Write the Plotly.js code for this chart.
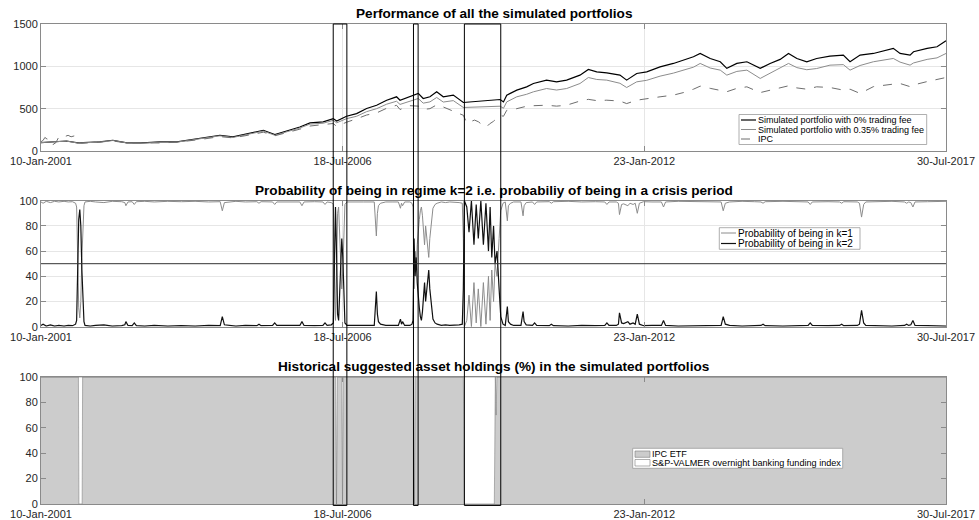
<!DOCTYPE html>
<html><head><meta charset="utf-8">
<script src="https://cdn.plot.ly/plotly-3.0.1.min.js"></script>
<style>html,body{margin:0;padding:0;background:#fff}#chart{width:979px;height:520px}</style>
</head><body><div id="chart"></div>
<script>
// ---------- DATA ----------
const tickDates  = ['2001-01-10','2006-07-18','2012-01-23','2017-07-30'];
const tickLabels = ['10-Jan-2001','18-Jul-2006','23-Jan-2012','30-Jul-2017'];

const crisisStart = ['2006-05-16','2007-11-03','2008-10-08'];
const crisisEnd   = ['2006-08-15','2007-12-04','2009-06-08'];

const perfDates = ['2001-01-10','2001-03-31','2001-06-29','2001-09-13','2002-02-07','2002-05-05','2002-08-07','2002-11-21',
 '2003-03-15','2003-07-07','2003-09-12','2003-12-07','2004-04-19','2004-07-15','2004-11-05','2005-02-03','2005-04-21',
 '2005-07-08','2005-10-05','2005-12-12','2006-03-10','2006-05-16','2006-06-08','2006-08-13','2006-10-19','2006-12-25',
 '2007-03-02','2007-05-08','2007-07-13','2007-08-05','2007-10-10','2007-12-05','2008-01-07','2008-02-21','2008-04-06',
 '2008-05-20','2008-07-26','2008-10-01','2009-06-04','2009-06-26','2009-07-18','2009-09-23','2009-11-28','2010-01-12',
 '2010-04-10','2010-06-16','2010-08-22','2010-11-19','2011-01-14','2011-03-11','2011-05-17','2011-08-13','2011-09-27',
 '2011-12-03','2012-02-08','2012-05-07','2012-08-04','2012-10-10','2012-12-16','2013-01-30','2013-04-07','2013-06-13',
 '2013-07-27','2013-10-02','2013-12-08','2014-03-07','2014-05-12','2014-07-18','2014-09-12','2014-11-07','2015-01-12',
 '2015-03-19','2015-06-16','2015-09-13','2015-10-28','2016-01-03','2016-04-01','2016-08-12','2016-09-26','2016-12-02',
 '2016-12-25','2017-03-26','2017-05-31','2017-07-30'];
const fee0 = [99,105,118,95,107,127,97,95,
 107,108,127,146,186,166,206,245,194,
 237,284,332,344,383,355,411,442,502,
 541,600,640,600,640,680,620,640,699,
 640,660,573,608,580,660,719,758,797,
 837,817,837,896,963,935,923,896,837,
 916,935,994,1034,1074,1113,1152,1093,1054,
 976,1034,1054,976,1034,1082,1152,1093,1054,
 1093,1121,1133,1054,1133,1152,1212,1152,1133,
 1172,1212,1231,1302];
const fee035 = [99,104,117,94,105,124,95,93,
 104,105,123,141,179,160,198,235,186,
 227,272,318,328,362,333,382,410,465,
 500,553,588,550,585,620,565,580,632,
 578,595,514,529,505,580,640,670,699,
 738,720,738,797,868,845,837,800,750,
 817,835,884,920,955,990,1034,980,955,
 896,940,955,857,920,974,1034,985,960,
 974,1014,1020,955,1010,1054,1093,1050,1014,
 1040,1082,1100,1152];

const ipcDates = ['2001-01-10','2001-01-24','2001-02-05','2001-02-20','2001-03-07','2001-03-31','2001-04-20','2001-05-10',
 '2001-05-27','2001-06-20','2001-07-10','2001-07-30','2001-08-24','2001-09-13','2001-10-10','2002-02-07','2002-05-05',
 '2002-08-07','2002-11-21','2003-03-15','2003-07-07','2003-09-12','2003-12-07','2004-04-19','2004-07-15','2004-11-05',
 '2005-02-03','2005-04-21','2005-07-08','2005-10-05','2005-12-12','2006-03-10','2006-05-16','2006-06-08','2006-08-13',
 '2006-10-19','2006-12-25','2007-03-02','2007-05-08','2007-07-13','2007-08-05','2007-10-10','2007-12-05','2008-01-07',
 '2008-02-21','2008-04-06','2008-05-20','2008-07-26','2008-10-01','2008-10-24','2008-11-20','2008-12-15','2009-01-10',
 '2009-02-10','2009-03-05','2009-03-25','2009-04-20','2009-05-10','2009-06-04','2009-06-26','2009-07-18','2009-09-23',
 '2009-11-28','2010-01-12','2010-04-10','2010-06-16','2010-08-22','2010-11-19','2011-01-14','2011-03-11','2011-05-17',
 '2011-08-13','2011-09-27','2011-12-03','2012-02-08','2012-05-07','2012-08-04','2012-10-10','2012-12-16','2013-01-30',
 '2013-04-07','2013-06-13','2013-07-27','2013-10-02','2013-12-08','2014-03-07','2014-05-12','2014-07-18','2014-09-12',
 '2014-11-07','2015-01-12','2015-03-19','2015-06-16','2015-09-13','2015-10-28','2016-01-03','2016-04-01','2016-08-12',
 '2016-09-26','2016-12-02','2016-12-25','2017-03-26','2017-05-31','2017-07-30'];
const ipcIndex = [110,125,160,140,150,76,100,170,
 185,172,185,168,180,100,92,105,118,
 95,92,95,104,116,135,170,155,190,
 222,180,215,258,295,312,325,290,340,
 380,425,450,505,540,490,535,530,490,
 500,545,520,470,422,330,345,365,345,
 300,284,320,350,385,422,410,481,500,
 529,535,541,530,541,590,610,595,600,
 590,560,600,620,640,660,690,730,766,
 740,719,700,740,758,690,720,750,770,
 745,730,758,750,719,730,680,760,790,
 797,760,780,820,845,868];

const probDates = [
 '2001-01-10','2001-01-24','2001-02-14','2001-03-14','2001-04-11','2001-05-09','2001-06-13','2001-07-11','2001-08-08','2001-08-29',
 '2001-09-05','2001-09-12','2001-09-19','2001-09-26','2001-10-03','2001-10-10','2001-10-17','2001-10-24','2001-10-31','2001-12-05',
 '2002-01-09','2002-03-06','2002-05-01','2002-07-03','2002-07-24','2002-07-31','2002-08-14','2002-09-11','2002-09-25','2002-10-09',
 '2002-12-04','2003-02-05','2003-05-07','2003-08-06','2003-11-05',
 '2004-02-04','2004-04-21','2004-05-05','2004-05-19','2004-08-04','2004-10-06','2004-12-22','2005-01-05','2005-01-19','2005-04-06',
 '2005-04-20','2005-05-04','2005-07-06','2005-10-05','2005-10-19','2005-11-02','2006-01-11','2006-03-08','2006-03-22','2006-04-05',
 '2006-05-03','2006-05-17',
 '2006-05-24','2006-05-31','2006-06-07','2006-06-14','2006-06-21','2006-06-28','2006-07-05','2006-07-12','2006-07-19','2006-07-26',
 '2006-08-02','2006-08-16',
 '2006-10-04','2006-12-06','2007-02-14','2007-02-28','2007-03-07','2007-03-14','2007-03-28','2007-05-02','2007-06-13','2007-07-25',
 '2007-08-08','2007-08-15','2007-08-22','2007-09-05','2007-10-10','2007-10-24',
 '2007-10-31','2007-11-07','2007-11-14','2007-11-21','2007-11-28','2007-12-05','2007-12-12','2007-12-19','2007-12-26','2008-01-02',
 '2008-01-09','2008-01-16','2008-01-23','2008-01-30','2008-02-06','2008-02-13','2008-02-20','2008-02-27','2008-03-05','2008-03-12',
 '2008-03-26','2008-04-09','2008-05-07','2008-06-04','2008-07-02','2008-08-06','2008-09-03','2008-09-24',
 '2008-10-01','2008-10-08','2008-10-24','2008-11-08','2008-11-24','2008-12-11','2008-12-26','2009-01-09','2009-01-26','2009-02-12',
 '2009-03-01','2009-03-18','2009-03-29','2009-04-09','2009-04-21','2009-05-01','2009-05-14','2009-05-28','2009-06-08','2009-06-23',
 '2009-07-08','2009-07-22','2009-07-29','2009-08-12','2009-09-02','2009-10-21','2009-11-04','2009-11-11','2009-11-25','2010-01-06',
 '2010-01-20','2010-02-03','2010-04-28','2010-05-12','2010-05-26','2010-09-01','2010-12-01','2011-03-02','2011-05-04','2011-05-18',
 '2011-06-01','2011-07-20','2011-08-03','2011-08-10','2011-08-24','2011-09-07','2011-09-21','2011-10-05','2011-10-19','2011-11-09',
 '2011-11-23','2011-12-07','2011-12-21','2012-01-18','2012-03-14','2012-05-16','2012-05-30','2012-06-13','2012-09-05','2012-12-05',
 '2013-03-06','2013-06-19','2013-07-03','2013-07-17','2013-08-14','2013-11-06','2014-01-29','2014-03-12','2014-03-26','2014-04-09',
 '2014-08-06','2014-11-05','2015-01-21','2015-02-04','2015-02-18','2015-06-03','2015-08-19','2015-09-02','2015-09-16','2015-12-16',
 '2015-12-30','2016-01-13','2016-01-27','2016-02-10','2016-05-04','2016-08-03','2016-10-26','2016-11-09','2016-11-23','2016-12-07',
 '2016-12-21','2017-01-04','2017-03-29','2017-06-07','2017-07-30'];
const probK2 = [
 1.0,2.0,0.5,1.5,0.5,1.0,0.5,1.0,0.8,2.0,
 5,40,85,93,80,45,15,4,1.0,0.5,
 1.0,1.5,0.5,0.8,1.5,4,1.0,0.8,3,0.8,
 0.5,1.0,0.5,0.8,0.5,
 1.0,0.8,8,1.5,0.5,1.0,0.8,2,0.8,1.0,
 3,1.0,0.8,1.0,4,1.0,0.8,1.0,3,1.0,
 1.5,3,
 50,95,60,10,5,30,60,70,55,15,
 3,1.0,
 0.8,1.0,1.0,28,10,4,2,1.0,1.0,1.0,
 6,2,4,1.0,1.0,2,
 5,70,40,55,35,22,15,8,5,12,
 25,35,20,30,40,45,30,20,12,6,
 3,2,1.0,1.5,1.0,1.0,1.5,2,
 30,100,95,75,100,65,97,70,100,65,
 98,60,95,55,80,50,60,30,8,2,
 1.0,16,4,2,1.0,1.0,12,4,1.5,1.0,
 3,1.0,0.8,2,0.8,0.5,1.0,0.8,1.0,3,
 1.0,1.0,2,11,3,2.5,3,4,2,3,
 2,10,2,0.8,1.0,1.0,5,1.0,0.5,0.8,
 0.8,1.0,8,2,1.0,0.5,0.8,1.0,2,0.8,
 0.5,1.0,1.0,3,1.0,0.8,1.0,2,0.8,1.0,
 2,13,3,1.0,0.8,0.5,1.0,2,1.0,1.5,
 5,1.0,0.8,0.5,0.5];
const probK1 = probK2.map(v => 100 - v);

const holdDates = ['2001-01-10','2001-09-17','2001-09-20','2001-10-12','2001-10-15','2006-06-01','2006-06-07','2006-06-13',
 '2006-07-12','2006-07-17','2006-07-22','2007-11-05','2007-11-10','2007-11-15','2008-10-01','2008-10-08','2009-04-26',
 '2009-05-03','2009-05-08','2009-05-13','2017-07-30'];
const ipcEtfShare = [100,100,0,0,100,100,0,100,
 100,0,100,100,0,100,100,0,0,
 100,70,100,100];
const cashShare = ipcEtfShare.map(v => 100 - v);

// ---------- LAYOUT HELPERS ----------
const L = 41, R = 946, T = 24, B = 504;
const X = px => (px - L) / (R - L);
const Y = py => (B - py) / (B - T);
const FONT = 'Liberation Sans, Arial, Helvetica, sans-serif';
const AXC = '#8a8a8a';

function xAxis(anchor) {
  return {domain:[0,1], anchor:anchor, type:'date', range:[tickDates[0], tickDates[3]],
    tickmode:'array', tickvals:tickDates, ticktext:tickLabels, ticks:'inside', ticklen:5, tickcolor:AXC,
    showline:true, linecolor:AXC, linewidth:1, mirror:'ticks', showgrid:true, gridcolor:'#e6e6e6',
    zeroline:false, tickfont:{family:FONT, size:11, color:'#262626'}, tickangle:0};
}
function yAxis(anchor, dom, range, vals) {
  return {domain:dom, anchor:anchor, range:range, tickmode:'array', tickvals:vals, ticks:'inside', ticklen:5,
    tickcolor:AXC, showline:true, linecolor:AXC, linewidth:1, mirror:'ticks', showgrid:true, gridcolor:'#e6e6e6',
    zeroline:false, tickfont:{family:FONT, size:11, color:'#262626'}};
}

const traces = [
  {x:perfDates, y:fee0, xaxis:'x', yaxis:'y', mode:'lines', line:{color:'#000', width:1.2}, name:'Simulated portfolio with 0% trading fee'},
  {x:perfDates, y:fee035, xaxis:'x', yaxis:'y', mode:'lines', line:{color:'#8c8c8c', width:1}, name:'Simulated portfolio with 0.35% trading fee'},
  {x:ipcDates, y:ipcIndex, xaxis:'x', yaxis:'y', mode:'lines', line:{color:'#6e6e6e', width:1, dash:'dash'}, name:'IPC'},
  {x:probDates, y:probK1, xaxis:'x2', yaxis:'y2', mode:'lines', line:{color:'#8c8c8c', width:1}, name:'Probability of being in k=1'},
  {x:probDates, y:probK2, xaxis:'x2', yaxis:'y2', mode:'lines', line:{color:'#111', width:1.2}, name:'Probability of being in k=2'},
  {x:holdDates, y:ipcEtfShare, xaxis:'x3', yaxis:'y3', mode:'lines', stackgroup:'h', fillcolor:'#cccccc', line:{color:'#7a7a7a', width:0.6}, name:'IPC ETF'},
  {x:holdDates, y:cashShare, xaxis:'x3', yaxis:'y3', mode:'lines', stackgroup:'h', fillcolor:'#ffffff', line:{color:'#7a7a7a', width:0.6}, name:'S&P-VALMER overnight banking funding index'}
];

const shapes = [];
const annotations = [];

// crisis boxes spanning all panels
for (let i = 0; i < crisisStart.length; i++) {
  shapes.push({type:'rect', xref:'x', yref:'paper', x0:crisisStart[i], x1:crisisEnd[i], y0:-0.003, y1:1.0,
    line:{color:'#000', width:1}, fillcolor:'rgba(0,0,0,0)', layer:'above'});
}
// 50% threshold line in panel 2
shapes.push({type:'line', xref:'x2 domain', yref:'y2', x0:0, x1:1, y0:50, y1:50, line:{color:'#333', width:1}});

// subplot titles
const titles = [
  ['Performance of all the simulated portfolios', 13.3],
  ['Probability of being in regime k=2 i.e. probabiliy of being in a crisis period', 190],
  ['Historical suggested asset holdings (%) in the simulated portfolios', 366.7]
];
titles.forEach(t => annotations.push({xref:'paper', yref:'paper', x:0.5, y:Y(t[1]), xanchor:'center', yanchor:'middle',
  text:t[0], showarrow:false, font:{family:FONT, size:13.6, color:'#000', weight:'bold'}}));

// manual legends
function legendBox(x0, x1, y0, y1) {
  shapes.push({type:'rect', xref:'paper', yref:'paper', x0:X(x0), x1:X(x1), y0:Y(y1), y1:Y(y0),
    line:{color:'#9a9a9a', width:0.8}, fillcolor:'#ffffff', layer:'above'});
}
function legendText(px, py, text, size) {
  annotations.push({xref:'paper', yref:'paper', x:X(px), y:Y(py), xanchor:'left', yanchor:'middle', text:text,
    showarrow:false, borderpad:0, font:{family:FONT, size:size, color:'#000'}});
}
function legendLine(x0, x1, py, color, width, dash) {
  shapes.push({type:'line', xref:'paper', yref:'paper', x0:X(x0), x1:X(x1), y0:Y(py), y1:Y(py),
    line:{color:color, width:width, dash:dash || 'solid'}, layer:'above'});
}
// legend 1
legendBox(739, 926.7, 114.5, 144.5);
[[120.0, '#000', 1.2, 'solid'], [129.5, '#8c8c8c', 1, 'solid'], [139.0, '#6e6e6e', 1, 'dash']].forEach((r, i) => {
  legendLine(741, 756, r[0], r[1], r[2], r[3]);
  legendText(756.5, r[0], traces[i].name, 9);
});
// legend 2
legendBox(719.3, 860, 227.7, 249.3);
[[233, '#8c8c8c', 1], [243.5, '#111', 1.2]].forEach((r, i) => {
  legendLine(721, 736, r[0], r[1], r[2]);
  legendText(736.5, r[0], traces[3 + i].name, 10);
});
// legend 3
legendBox(632.7, 842.7, 448.3, 468.3);
shapes.push({type:'rect', xref:'paper', yref:'paper', x0:X(635), x1:X(650), y0:Y(457.3), y1:Y(451),
  line:{color:'#7a7a7a', width:0.6}, fillcolor:'#cccccc', layer:'above'});
shapes.push({type:'rect', xref:'paper', yref:'paper', x0:X(635), x1:X(650), y0:Y(466), y1:Y(459.5),
  line:{color:'#7a7a7a', width:0.6}, fillcolor:'#ffffff', layer:'above'});
legendText(651, 453.6, traces[5].name, 9.1);
legendText(651, 463.4, traces[6].name, 9.1);

const layout = {
  width:979, height:520, margin:{l:L, r:979 - R, t:T, b:520 - B},
  paper_bgcolor:'#fff', plot_bgcolor:'#fff', showlegend:false, hovermode:false,
  font:{family:FONT, color:'#262626'},
  xaxis:xAxis('y'), xaxis2:xAxis('y2'), xaxis3:xAxis('y3'),
  yaxis:yAxis('x', [Y(151), 1], [0,1500], [0,500,1000,1500]),
  yaxis2:yAxis('x2', [Y(326.7), Y(200.7)], [0,100], [0,20,40,60,80,100]),
  yaxis3:yAxis('x3', [0, Y(377)], [0,100], [0,20,40,60,80,100]),
  shapes:shapes, annotations:annotations
};

Plotly.newPlot('chart', traces, layout, {staticPlot:true, displayModeBar:false});
</script>
</body></html>
